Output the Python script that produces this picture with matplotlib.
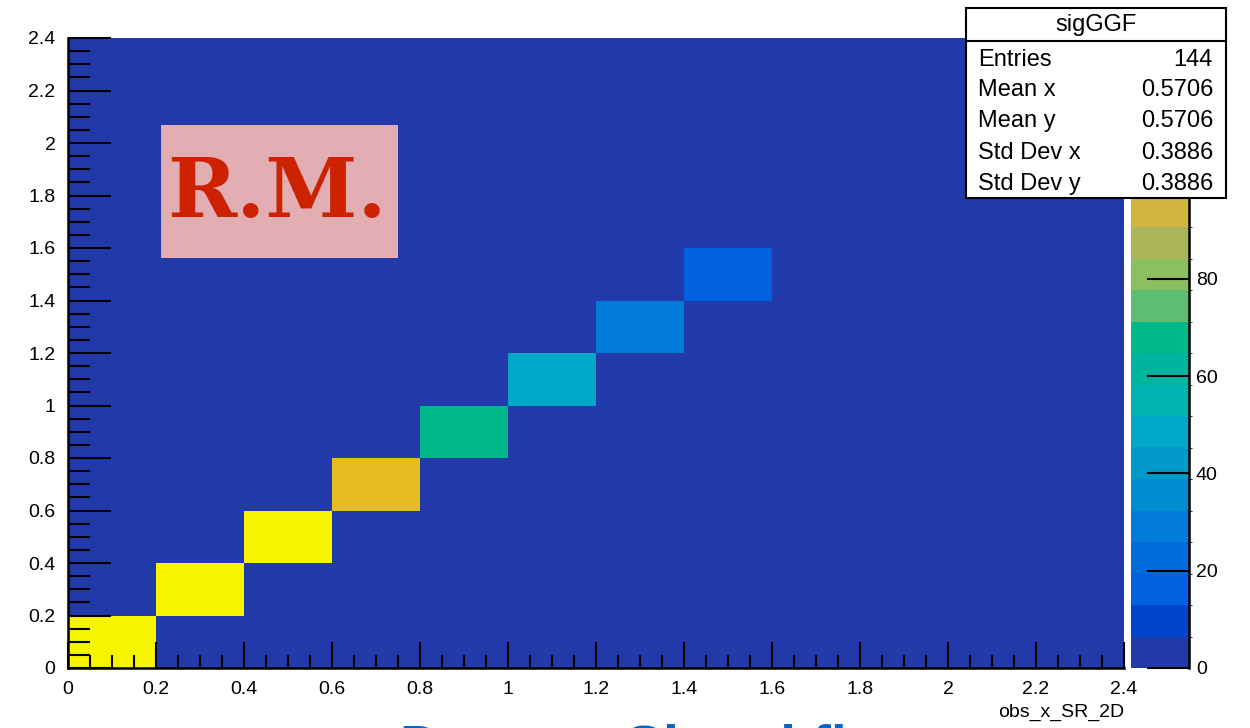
import matplotlib
matplotlib.use("Agg")
import matplotlib.pyplot as plt
import numpy as np
from matplotlib.colors import ListedColormap, BoundaryNorm
from matplotlib.patches import Rectangle

plt.rcParams['font.family'] = ['Liberation Sans', 'DejaVu Sans']

# histogram binning (0..2.4 in 0.2 steps on both axes)
x_edges = [0.0, 0.2, 0.4, 0.6, 0.8, 1.0, 1.2, 1.4, 1.6, 1.8, 2.0, 2.2, 2.4]
y_edges = [0.0, 0.2, 0.4, 0.6, 0.8, 1.0, 1.2, 1.4, 1.6, 1.8, 2.0, 2.2, 2.4]

# filled bins (diagonal)
bin_ix = [0, 1, 2, 3, 4, 5, 6, 7]
bin_iy = [0, 1, 2, 3, 4, 5, 6, 7]
bin_val = [129.5, 127, 125, 107, 68, 48, 29, 16]

z_max = 129.5
cbar_ticks = [0, 20, 40, 60, 80, 100, 120]

stats_title = "sigGGF"
stats_names = ["Entries", "Mean x", "Mean y", "Std Dev x", "Std Dev y"]
stats_vals = ["144", "0.5706", "0.5706", "0.3886", "0.3886"]

# 20 contour colours of the palette, low -> high
palette = ['#2239aa', '#0045cc', '#0060e0', '#006ad8', '#007bd8', '#008dd0',
           '#0099c8', '#00a7c6', '#00b2b0', '#00b5a0', '#00b98a', '#5dbd72',
           '#8bbf60', '#acb55a', '#d0b540', '#dcb734', '#e6bb1f', '#f0d016',
           '#f3e60a', '#f5f500']

z = np.zeros((len(y_edges) - 1, len(x_edges) - 1))
for ix, iy, v in zip(bin_ix, bin_iy, bin_val):
    z[iy, ix] = v

W, H = 1250, 728
fig = plt.figure(figsize=(12.5, 7.28), dpi=100)
fig.patch.set_facecolor('white')

def fx(px):
    return px / W

def fy(py):
    return 1 - py / H

ax = fig.add_axes([fx(68), fy(668), fx(1124 - 68), (668 - 38) / H])
cmap = ListedColormap(palette)
norm = BoundaryNorm(np.linspace(0, z_max, len(palette) + 1), cmap.N)
mesh = ax.pcolormesh(x_edges, y_edges, z, cmap=cmap, norm=norm)
ax.set_xlim(0, 2.4)
ax.set_ylim(0, 2.4)

major = np.arange(0, 2.41, 0.2).round(1)
ax.set_xticks(major)
ax.set_yticks(major)
ax.set_xticks(np.arange(0, 2.41, 0.05), minor=True)
ax.set_yticks(np.arange(0, 2.41, 0.05), minor=True)
ax.set_xticklabels([f"{t:g}" for t in major])
ax.set_yticklabels([f"{t:g}" for t in major])
ax.tick_params(axis='x', which='major', direction='in', length=19, width=1.5, labelsize=14, pad=9)
ax.tick_params(axis='x', which='minor', direction='in', length=9.5, width=1.5)
ax.tick_params(axis='y', which='major', direction='in', length=31, width=1.5, labelsize=14, pad=9)
ax.tick_params(axis='y', which='minor', direction='in', length=16, width=1.5)
for s in ['top', 'right']:
    ax.spines[s].set_visible(False)
for s in ['left', 'bottom']:
    ax.spines[s].set_linewidth(1.8)

fig.text(fx(1124), fy(712), "obs_x_SR_2D", ha='right', va='center', fontsize=14)

# R.M. label
ax.add_patch(Rectangle((0.088, 0.651), 0.2245, 0.211, transform=ax.transAxes,
                       facecolor='#e2adb3', edgecolor='none', zorder=3))
ax.text(0.198, 0.752, "R.M.", transform=ax.transAxes, ha='center', va='center',
        fontsize=60, color='#cc2200', family='DejaVu Serif', fontweight='bold', zorder=4)

# colour bar
cax = fig.add_axes([fx(1131), fy(668), fx(1189 - 1131), (668 - 38) / H])
cb = fig.colorbar(mesh, cax=cax, ticks=cbar_ticks)
cb.outline.set_visible(False)
cax.tick_params(direction='in', length=30, width=1.5, labelsize=14, pad=5)
cax.plot([1, 1], [0, 1], transform=cax.transAxes, color='black', lw=1.8, clip_on=False)

# stats box (covers the top of the colour bar, as in the original)
sax = fig.add_axes([fx(966), fy(198), fx(1226 - 966), (198 - 8) / H], zorder=10)
sax.set_xticks([])
sax.set_yticks([])
sax.set_facecolor('white')
for s in sax.spines.values():
    s.set_linewidth(1.5)
sax.axhline((198 - 41) / 190, color='black', lw=1.5)
sax.text(0.5, (198 - 25) / 190, stats_title, ha='center', va='center', fontsize=17)
row_y = [60, 90, 121, 153, 184]
for name, val, py in zip(stats_names, stats_vals, row_y):
    sax.text(0.046, (198 - py) / 190, name, ha='left', va='center', fontsize=17)
    sax.text(0.95, (198 - py) / 190, val, ha='right', va='center', fontsize=17)

# slide title cut off at the bottom of the screenshot
fig.text(fx(400), fy(724), "Dummy Signal fit", ha='left', va='top', fontsize=41,
         fontweight='bold', color='#0a64c4')

fig.savefig("out.png", dpi=100)
